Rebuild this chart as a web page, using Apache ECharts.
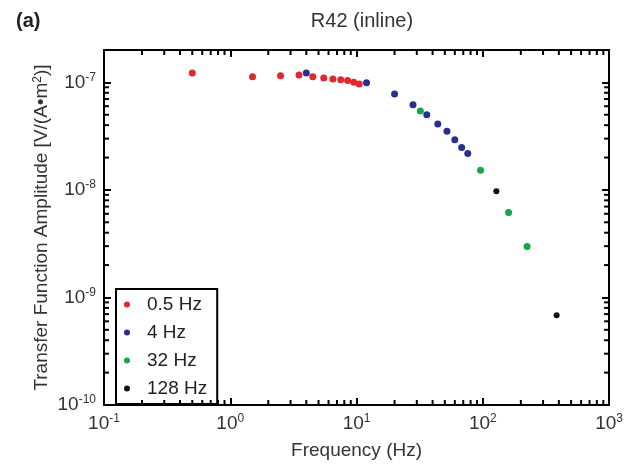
<!DOCTYPE html>
<html>
<head>
<meta charset="utf-8">
<script src="https://cdn.jsdelivr.net/npm/echarts@6/dist/echarts.min.js"></script>
<style>html,body{margin:0;padding:0;background:#fff;}#chart{width:626px;height:465px;}</style>
</head>
<body>
<div id="chart"></div>
<script>
// ---- data ----
const freq05 = [0.5, 1.5, 2.5, 3.5, 4.5, 5.5, 6.5, 7.5, 8.5, 9.5, 10.5];
const amp05 = [1.22e-7, 1.13e-7, 1.15e-7, 1.17e-7, 1.13e-7, 1.10e-7, 1.077e-7, 1.06e-7, 1.04e-7, 1.0e-7, 0.968e-7];
const freq4 = [4, 12, 20, 28, 36, 44, 52, 60, 68, 76];
const amp4 = [1.22e-7, 0.99e-7, 7.78e-8, 6.19e-8, 5.0e-8, 4.11e-8, 3.51e-8, 2.92e-8, 2.48e-8, 2.18e-8];
const freq32 = [32, 96, 160, 224];
const amp32 = [5.42e-8, 1.52e-8, 6.18e-9, 2.97e-9];
const freq128 = [128, 384];
const amp128 = [9.73e-9, 6.85e-10];
const seriesNames = ['0.5 Hz', '4 Hz', '32 Hz', '128 Hz'];
const xMinorTicks = [0.2,0.3,0.4,0.5,0.6,0.7,0.8,0.9, 2,3,4,5,6,7,8,9, 20,30,40,50,60,70,80,90, 200,300,400,500,600,700,800,900];
const yMinorTicks = [2e-10,3e-10,4e-10,5e-10,6e-10,7e-10,8e-10,9e-10, 2e-9,3e-9,4e-9,5e-9,6e-9,7e-9,8e-9,9e-9, 2e-8,3e-8,4e-8,5e-8,6e-8,7e-8,8e-8,9e-8, 2e-7];
const xMin = 0.1, xMax = 1000, yMin = 1e-10, yMax = 2e-7;

const colors = ['#e0282e', '#2a2e8c', '#16a64a', '#111111'];

function pair(xs, ys) { return xs.map((x, i) => [x, ys[i]]); }
function powLabel(v) {
  const e = Math.round(Math.log10(v));
  if (Math.abs(Math.log10(v) - e) > 1e-6) return '';
  return '{b|10}{s|' + e + '}';
}
const richLab = {
  b: { fontSize: 19, lineHeight: 22, color: '#333', fontFamily: 'Liberation Sans' },
  s: { fontSize: 12, lineHeight: 10, verticalAlign: 'top', color: '#333', fontFamily: 'Liberation Sans' }
};
const axisLineStyle = { show: true, lineStyle: { color: '#000', width: 2 } };
const tickStyle = { show: true, inside: true, length: 7, lineStyle: { color: '#000', width: 2 } };

const chart = echarts.init(document.getElementById('chart'), null, { renderer: 'canvas' });

function minorX(params, api) {
  const v = api.value(0);
  const pb = api.coord([v, yMin]);
  const pt = api.coord([v, yMax]);
  return { type: 'group', children: [
    { type: 'line', shape: { x1: pb[0], y1: pb[1], x2: pb[0], y2: pb[1] - 5 }, style: { stroke: '#000', lineWidth: 2 } },
    { type: 'line', shape: { x1: pt[0], y1: pt[1], x2: pt[0], y2: pt[1] + 5 }, style: { stroke: '#000', lineWidth: 2 } }
  ] };
}
function minorY(params, api) {
  const v = api.value(1);
  const pl = api.coord([xMin, v]);
  const pr = api.coord([xMax, v]);
  return { type: 'group', children: [
    { type: 'line', shape: { x1: pl[0], y1: pl[1], x2: pl[0] + 5, y2: pl[1] }, style: { stroke: '#000', lineWidth: 2 } },
    { type: 'line', shape: { x1: pr[0], y1: pr[1], x2: pr[0] - 5, y2: pr[1] }, style: { stroke: '#000', lineWidth: 2 } }
  ] };
}

const option = {
  animation: false,
  backgroundColor: '#fff',
  title: [
    { text: '(a)', left: 11, top: 6, textStyle: { fontSize: 20, fontWeight: 'bold', color: '#222', fontFamily: 'Liberation Sans' } },
    { text: 'R42 (inline)', left: 357, top: 6, textAlign: 'center', textStyle: { fontSize: 20, fontWeight: 'normal', color: '#333', fontFamily: 'Liberation Sans' } }
  ],
  grid: { left: 104, right: 14, top: 50, bottom: 59, containLabel: false },
  legend: {
    orient: 'vertical', left: 116, top: 289,
    data: seriesNames,
    itemWidth: 6, itemHeight: 6, itemGap: 9,
    padding: [6, 10, 6, 8],
    borderColor: '#000', borderWidth: 2,
    textStyle: { fontSize: 19, color: '#222', fontFamily: 'Liberation Sans', padding: [0, 0, 0, 12] }
  },
  xAxis: [
    { type: 'log', logBase: 10, min: xMin, max: xMax, position: 'bottom',
      name: 'Frequency (Hz)', nameLocation: 'middle', nameGap: 36,
      nameTextStyle: { fontSize: 19, color: '#333', fontFamily: 'Liberation Sans' },
      axisLine: axisLineStyle, axisTick: tickStyle, splitLine: { show: false },
      axisLabel: { margin: 8, formatter: powLabel, rich: richLab } },
    { type: 'log', logBase: 10, min: xMin, max: xMax, position: 'top',
      axisLine: axisLineStyle, axisTick: tickStyle, splitLine: { show: false }, axisLabel: { show: false } }
  ],
  yAxis: [
    { type: 'log', logBase: 10, min: yMin, max: yMax, position: 'left',
      name: 'Transfer Function Amplitude [V/(A•m{s|2})]', nameLocation: 'middle', nameGap: 53, nameRotate: 90,
      nameMoveOverlap: false,
      nameTextStyle: { fontSize: 19, color: '#333', fontFamily: 'Liberation Sans',
        rich: { s: { fontSize: 12, lineHeight: 10, verticalAlign: 'top', color: '#333', fontFamily: 'Liberation Sans' } } },
      axisLine: axisLineStyle, axisTick: tickStyle, splitLine: { show: false },
      axisLabel: { margin: 8, formatter: powLabel, rich: richLab, showMaxLabel: false } },
    { type: 'log', logBase: 10, min: yMin, max: yMax, position: 'right',
      axisLine: axisLineStyle, axisTick: tickStyle, splitLine: { show: false }, axisLabel: { show: false } }
  ],
  series: [
    { name: seriesNames[0], type: 'scatter', data: pair(freq05, amp05), symbolSize: 7, itemStyle: { color: colors[0], opacity: 1 } },
    { name: seriesNames[1], type: 'scatter', data: pair(freq4, amp4), symbolSize: 7, itemStyle: { color: colors[1], opacity: 1 } },
    { name: seriesNames[2], type: 'scatter', data: pair(freq32, amp32), symbolSize: 7, itemStyle: { color: colors[2], opacity: 1 } },
    { name: seriesNames[3], type: 'scatter', data: pair(freq128, amp128), symbolSize: 6, itemStyle: { color: colors[3], opacity: 1 } },
    { type: 'custom', renderItem: minorX, data: xMinorTicks.map(v => [v, yMin]), silent: true, clip: false, z: 5 },
    { type: 'custom', renderItem: minorY, data: yMinorTicks.map(v => [xMin, v]), silent: true, clip: false, z: 5 }
  ]
};
chart.setOption(option);
</script>
</body>
</html>
